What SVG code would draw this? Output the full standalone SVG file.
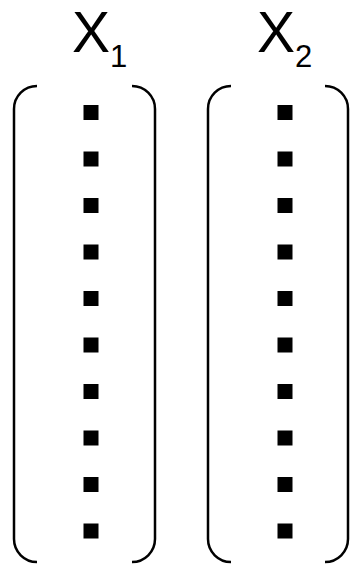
<svg xmlns="http://www.w3.org/2000/svg" width="352" height="564" viewBox="0 0 352 564">
<style>
.lbl{font-family:"Liberation Sans",Arial,sans-serif;fill:#000}
.br{fill:none;stroke:#000;stroke-width:2.5}
.dot{fill:#000}
</style>
<defs>
<rect id="d" class="dot" x="-7.5" y="-7.5" width="15" height="15"/>
</defs>
<rect width="352" height="564" fill="#fff"/>
<g id="x1">
<text class="lbl" x="72" y="52" font-size="57">X<tspan font-size="31" dy="15">1</tspan></text>
<path class="br" d="M37,86 A23,23 0 0 0 14,109 L14,539 A23,23 0 0 0 37,562"/>
<path class="br" d="M132,86 A23,23 0 0 1 155,109 L155,539 A23,23 0 0 1 132,562"/>
<use href="#d" x="91" y="112.5"/>
<use href="#d" x="91" y="159"/>
<use href="#d" x="91" y="205.5"/>
<use href="#d" x="91" y="252"/>
<use href="#d" x="91" y="298.5"/>
<use href="#d" x="91" y="345"/>
<use href="#d" x="91" y="391.5"/>
<use href="#d" x="91" y="438"/>
<use href="#d" x="91" y="484.5"/>
<use href="#d" x="91" y="531"/>
</g>
<g id="x2">
<text class="lbl" x="257" y="52" font-size="57">X<tspan font-size="31" dy="15">2</tspan></text>
<path class="br" d="M231,86 A23,23 0 0 0 208,109 L208,539 A23,23 0 0 0 231,562"/>
<path class="br" d="M325,86 A23,23 0 0 1 348,109 L348,539 A23,23 0 0 1 325,562"/>
<use href="#d" x="285" y="112.5"/>
<use href="#d" x="285" y="159"/>
<use href="#d" x="285" y="205.5"/>
<use href="#d" x="285" y="252"/>
<use href="#d" x="285" y="298.5"/>
<use href="#d" x="285" y="345"/>
<use href="#d" x="285" y="391.5"/>
<use href="#d" x="285" y="438"/>
<use href="#d" x="285" y="484.5"/>
<use href="#d" x="285" y="531"/>
</g>
</svg>
